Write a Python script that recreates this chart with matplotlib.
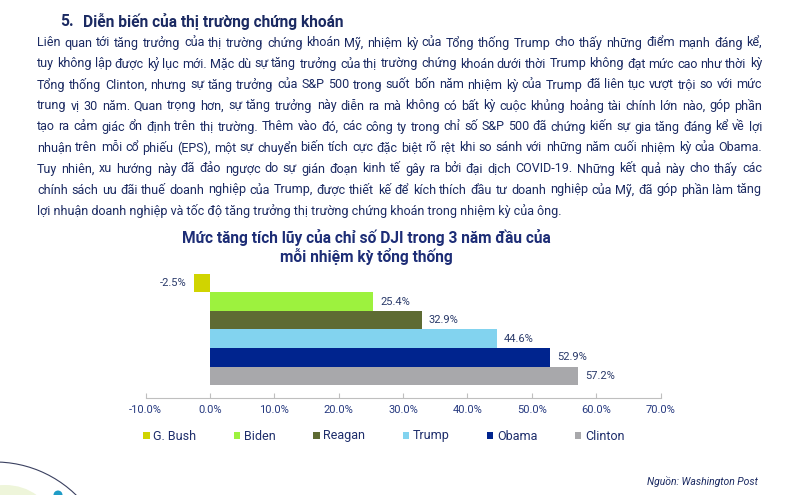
import matplotlib
matplotlib.use('Agg')
import matplotlib.pyplot as plt
from matplotlib.patches import Arc, Circle, Ellipse

# dữ liệu biểu đồ
presidents = ['G. Bush', 'Biden', 'Reagan', 'Trump', 'Obama', 'Clinton']
gains = [-2.5, 25.4, 32.9, 44.6, 52.9, 57.2]
colors = ['#D0D400', '#9DF23E', '#5E6B33', '#82D3EF', '#00248E', '#A8A8AB']
x_ticks = [-10, 0, 10, 20, 30, 40, 50, 60, 70]

heading_num = '5.'
heading = 'Diễn biến của thị trường chứng khoán'
body_lines = [
    'Liên quan tới tăng trưởng của thị trường chứng khoán Mỹ, nhiệm kỳ của Tổng thống Trump cho thấy những điểm mạnh đáng kể,',
    'tuy không lập được kỷ lục mới. Mặc dù sự tăng trưởng của thị trường chứng khoán dưới thời Trump không đạt mức cao như thời kỳ',
    'Tổng thống Clinton, nhưng sự tăng trưởng của S&P 500 trong suốt bốn năm nhiệm kỳ của Trump đã liên tục vượt trội so với mức',
    'trung vị 30 năm. Quan trọng hơn, sự tăng trưởng này diễn ra mà không có bất kỳ cuộc khủng hoảng tài chính lớn nào, góp phần',
    'tạo ra cảm giác ổn định trên thị trường. Thêm vào đó, các công ty trong chỉ số S&P 500 đã chứng kiến sự gia tăng đáng kể về lợi',
    'nhuận trên mỗi cổ phiếu (EPS), một sự chuyển biến tích cực đặc biệt rõ rệt khi so sánh với những năm cuối nhiệm kỳ của Obama.',
    'Tuy nhiên, xu hướng này đã đảo ngược do sự gián đoạn kinh tế gây ra bởi đại dịch COVID-19. Những kết quả này cho thấy các',
    'chính sách ưu đãi thuế doanh nghiệp của Trump, được thiết kế để kích thích đầu tư doanh nghiệp của Mỹ, đã góp phần làm tăng',
    'lợi nhuận doanh nghiệp và tốc độ tăng trưởng thị trường chứng khoán trong nhiệm kỳ của ông.',
]
chart_title = 'Mức tăng tích lũy của chỉ số DJI trong 3 năm đầu của\nmỗi nhiệm kỳ tổng thống'
source = 'Nguồn: Washington Post'

NAVY = '#1B2A62'
W, H = 785, 495

plt.rcParams['font.family'] = ['Roboto', 'DejaVu Sans']

fig = plt.figure(figsize=(W / 100, H / 100), dpi=100)
renderer = fig.canvas.get_renderer()


def fx(px):
    return px / W


def fy(py):
    return 1 - py / H


# nền trang trí góc dưới trái
deco = fig.add_axes([0, 0, 1, 1], zorder=0)
deco.set_xlim(0, W)
deco.set_ylim(H, 0)
deco.axis('off')
deco.add_patch(Ellipse((5, 520), 90, 70, color='#EEF5DA', lw=0))
deco.add_patch(Arc((-5, 578), 232, 232, theta1=-95, theta2=-40, color='#3A4060', lw=0.8))
deco.add_patch(Circle((58, 495), 4.5, color='#1F9CC6', lw=0))

# tiêu đề mục
fig.text(fx(60), fy(21), heading_num, fontsize=11.2, fontweight='bold', color=NAVY, va='center')
fig.text(fx(83), fy(21), heading, fontsize=11.2, fontweight='bold', color=NAVY, va='center')

# đoạn văn căn đều hai bên
x0, x1 = 37, 762
base = 9
probe_w = []
for line in body_lines[:-1]:
    t = fig.text(0, 0, line, fontsize=base)
    probe_w.append(t.get_window_extent(renderer).width)
    t.remove()
size = base * 712 / (sum(probe_w) / len(probe_w))
for i, line in enumerate(body_lines):
    y = fy(43 + 21 * i)
    if i == len(body_lines) - 1:
        fig.text(fx(x0), y, line, fontsize=size, color=NAVY, va='center')
        continue
    words = line.split(' ')
    texts = [fig.text(0, y, w, fontsize=size, color=NAVY, va='center') for w in words]
    widths = [t.get_window_extent(renderer).width for t in texts]
    gap = (x1 - x0 - sum(widths)) / (len(words) - 1)
    x = x0
    for t, w in zip(texts, widths):
        t.set_x(fx(x))
        x += w + gap

# tiêu đề biểu đồ
fig.text(fx(366), fy(247), chart_title, fontsize=11.2, fontweight='bold', color='#1D2D76',
         ha='center', va='center', linespacing=1.2)

# biểu đồ thanh ngang
ax = fig.add_axes([fx(145.7), fy(398), fx(660.5) - fx(145.7), (398 - 260) / H])
pos = list(range(len(presidents)))
bars = ax.barh(pos, gains, height=1.0, color=colors, label=presidents)
for b, v in zip(bars, gains):
    yc = b.get_y() + b.get_height() / 2
    if v < 0:
        ax.annotate(f'{v:.1f}%', (v, yc), xytext=(-5.5, 0), textcoords='offset points',
                    ha='right', va='center', fontsize=8, color='#2A3A6A')
    else:
        ax.annotate(f'{v:.1f}%', (v, yc), xytext=(5, 0), textcoords='offset points',
                    ha='left', va='center', fontsize=8, color='#2A3A6A')

ax.set_xlim(x_ticks[0], x_ticks[-1])
ax.set_ylim(6.2, -1.25)
ax.set_xticks(x_ticks)
ax.set_xticklabels([f'{t:.1f}%' for t in x_ticks])
ax.set_yticks([])
for s in ['top', 'right', 'left']:
    ax.spines[s].set_visible(False)
ax.spines['bottom'].set_color('#BFBFBF')
ax.tick_params(axis='x', direction='in', length=3.5, color='#BFBFBF', labelsize=8,
               labelcolor='#273A80', pad=5)
ax.patch.set_alpha(0)

fig.legend(handles=bars, labels=presidents, loc='center', bbox_to_anchor=(fx(384), fy(436)),
           ncol=6, frameon=False, fontsize=9, handlelength=0.5, handleheight=0.5,
           handletextpad=0.3, columnspacing=3.0, labelcolor='#1D2D6B')

fig.text(fx(758), fy(482), source, fontsize=7.5, style='italic', color=NAVY, ha='right', va='center')

fig.savefig('out.png', dpi=100)
plt.close(fig)
